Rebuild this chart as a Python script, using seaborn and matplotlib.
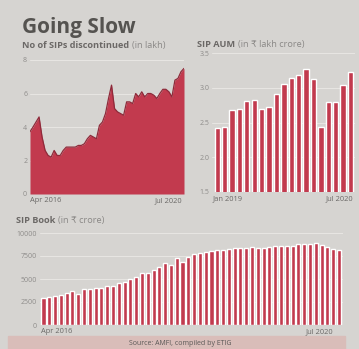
import numpy as np
import pandas as pd
import matplotlib
matplotlib.use("Agg")
import matplotlib.pyplot as plt
import seaborn as sns
from matplotlib.patches import Rectangle

# ---------------- data ----------------
disc_months = pd.date_range("2016-04-01", "2020-07-01", freq="MS")
discontinued = [3.72, 4.0, 4.3, 4.6, 3.4, 2.6, 2.3, 2.2, 2.6, 2.3,
                2.3, 2.6, 2.8, 2.8, 2.8, 2.8, 2.9, 2.9, 3.0, 3.3,
                3.5, 3.4, 3.3, 4.1, 4.3, 4.8, 5.7, 6.5, 5.1, 4.9,
                4.8, 4.7, 5.5, 5.5, 5.4, 6.0, 5.8, 6.1, 5.8, 6.0,
                6.0, 5.9, 5.7, 6.0, 6.25, 6.25, 6.1, 5.8, 6.8, 6.9,
                7.3, 7.5]

aum_months = pd.date_range("2019-01-01", "2020-07-01", freq="MS")
sip_aum = [2.42, 2.44, 2.68, 2.70, 2.81, 2.82, 2.70, 2.73, 2.91, 3.05,
           3.14, 3.19, 3.27, 3.13, 2.43, 2.79, 2.80, 3.04, 3.23]

book_months = pd.date_range("2016-04-01", "2020-07-01", freq="MS")
sip_book = [2960, 3070, 3180, 3290, 3460, 3680, 3390, 3930, 3930, 4070,
            4040, 4290, 4210, 4540, 4710, 5000, 5250, 5610, 5640, 6000,
            6320, 6710, 6500, 7250, 6810, 7420, 7700, 7780, 7890, 8060,
            8170, 8170, 8240, 8320, 8320, 8320, 8460, 8420, 8420, 8530,
            8600, 8600, 8600, 8600, 8780, 8780, 8780, 8960, 8710, 8490,
            8240, 8170]

disc_ticks = ["Apr 2016", "Jul 2020"]
aum_ticks = ["Jan 2019", "Jul 2020"]
book_ticks = ["Apr 2016", "Jul 2020"]

df_disc = pd.DataFrame({"i": np.arange(len(discontinued)), "v": discontinued})
df_aum = pd.DataFrame({"m": [d.strftime("%b %Y") for d in aum_months], "v": sip_aum})
df_book = pd.DataFrame({"m": [d.strftime("%b %Y") for d in book_months], "v": sip_book})

# ---------------- style ----------------
sns.set_style("white")
plt.rcParams['font.family'] = ['Open Sans', 'DejaVu Sans']

W, H = 359, 349
BG = "#d6d4d1"
RED = "#c23a4e"
GRID = "#e8e6e3"
TICK = "#8e8c8a"
LAB = "#6a6866"

fig = plt.figure(figsize=(W / 100, H / 100), dpi=100, facecolor=BG)

def ax_at(x0, y0, x1, y1):
    return fig.add_axes([x0 / W, 1 - y1 / H, (x1 - x0) / W, (y1 - y0) / H])

def style(ax):
    ax.set_facecolor(BG)
    for s in ax.spines.values():
        s.set_visible(False)
    ax.grid(axis="y", color=GRID, lw=0.7)
    ax.set_axisbelow(True)
    ax.tick_params(axis="both", length=0, pad=2)
    ax.tick_params(axis="y", labelsize=5, labelcolor=TICK)
    ax.tick_params(axis="x", labelsize=5.4, labelcolor=LAB)
    ax.set_xlabel("")
    ax.set_ylabel("")

# ---- top-left area chart ----
ax1 = ax_at(30, 60, 184, 194)
sns.lineplot(data=df_disc, x="i", y="v", ax=ax1, color="#8e2a3a", lw=0.9)
ax1.fill_between(df_disc["i"], df_disc["v"], color=RED, lw=0)
ax1.set_xlim(0, len(discontinued) - 1)
ax1.set_ylim(0, 8)
ax1.set_yticks([0, 2, 4, 6, 8])
ax1.set_yticklabels(["0", "2", "4", "6", "8"])
style(ax1)
ax1.set_xticks([0, len(discontinued) - 1.5])
xl = ax1.set_xticklabels(disc_ticks)
xl[0].set_ha("left"); xl[1].set_ha("right")

# ---- top-right bars ----
ax2 = ax_at(212, 53, 355, 192)
sns.barplot(data=df_aum, x="m", y="v", ax=ax2, color=RED, width=0.72,
            saturation=1)
ax2.set_xlim(-0.7, len(sip_aum) - 0.4)
ax2.set_ylim(1.5, 3.5)
ax2.set_yticks([1.5, 2.0, 2.5, 3.0, 3.5])
ax2.set_yticklabels(["1.5", "2.0", "2.5", "3.0", "3.5"])
style(ax2)
ax2.set_xticks([-0.6, len(sip_aum) - 0.6])
xl = ax2.set_xticklabels(aum_ticks)
xl[0].set_ha("left"); xl[1].set_ha("right")

# ---- bottom bars ----
ax3 = ax_at(40, 233, 343, 325)
sns.barplot(data=df_book, x="m", y="v", ax=ax3, color=RED, width=0.7,
            saturation=1)
ax3.set_xlim(-0.6, len(sip_book) - 0.3)
ax3.set_ylim(0, 10000)
ax3.set_yticks([0, 2500, 5000, 7500, 10000])
ax3.set_yticklabels(["0", "2500", "5000", "7500", "10000"])
style(ax3)
ax3.set_xticks([-0.5, len(sip_book) - 2])
xl = ax3.set_xticklabels(book_ticks)
xl[0].set_ha("left"); xl[1].set_ha("right")

# ---------------- texts ----------------
renderer = fig.canvas.get_renderer()

def two_part(x, y, bold, light, size=6.6):
    t = fig.text(x / W, 1 - y / H, bold, fontsize=size, fontweight="bold",
                 color="#6b6866", ha="left", va="baseline")
    bb = t.get_window_extent(renderer=renderer)
    x2 = bb.x1 / fig.dpi / fig.get_figwidth() + 2.5 / W
    fig.text(x2, 1 - y / H, light, fontsize=size, color="#8a8886",
             ha="left", va="baseline")

fig.text(22 / W, 1 - 33 / H, "Going Slow", fontsize=15, fontweight="bold",
         color="#555350", ha="left", va="baseline")
two_part(22, 48, "No of SIPs discontinued", "(in lakh)")
two_part(197, 47, "SIP AUM", "(in ₹ lakh crore)")
two_part(16, 223, "SIP Book", "(in ₹ crore)")

fig.patches.append(Rectangle((8 / W, 0), 337 / W, 13 / H,
                             transform=fig.transFigure, color="#d9bdb9",
                             zorder=-1))
fig.text(180 / W, 1 - 345 / H, "Source: AMFI, compiled by ETIG", fontsize=5,
         color="#5a5856", ha="center", va="baseline")

fig.savefig("out.png", dpi=100, facecolor=BG)
